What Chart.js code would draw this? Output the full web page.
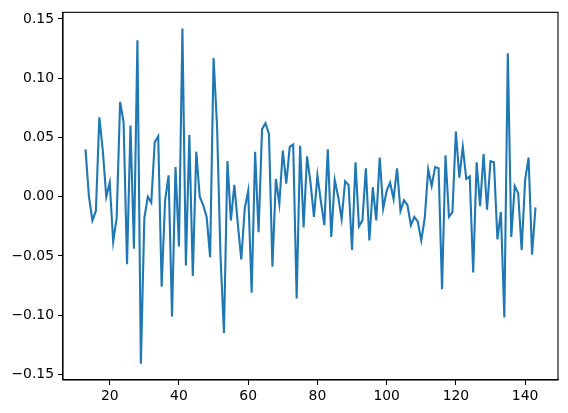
<!DOCTYPE html>
<html>
<head>
    <script src="https://cdn.jsdelivr.net/npm/chart.js"></script>
    <style>
        html, body { margin: 0; padding: 0; background: #fff; }
    </style>
</head>
<body>
    <canvas id="chart" width="568" height="413"></canvas>

    <script>
        // valori
        const xValues = [13, 14, 15, 16, 17, 18, 19, 20, 21, 22, 23, 24, 25, 26, 27, 28, 29, 30, 31, 32,
            33, 34, 35, 36, 37, 38, 39, 40, 41, 42, 43, 44, 45, 46, 47, 48, 49, 50, 51, 52,
            53, 54, 55, 56, 57, 58, 59, 60, 61, 62, 63, 64, 65, 66, 67, 68, 69, 70, 71, 72,
            73, 74, 75, 76, 77, 78, 79, 80, 81, 82, 83, 84, 85, 86, 87, 88, 89, 90, 91, 92,
            93, 94, 95, 96, 97, 98, 99, 100, 101, 102, 103, 104, 105, 106, 107, 108, 109, 110, 111, 112,
            113, 114, 115, 116, 117, 118, 119, 120, 121, 122, 123, 124, 125, 126, 127, 128, 129, 130, 131, 132,
            133, 134, 135, 136, 137, 138, 139, 140, 141, 142, 143];
        const yValues = [0.040, 0.000, -0.020, -0.012, 0.067, 0.039, 0.000, 0.012, -0.038, -0.018,
            0.080, 0.063, -0.057, 0.060, -0.044, 0.132, -0.141, -0.018, 0.000, -0.005,
            0.046, 0.051, -0.076, -0.003, 0.018, -0.101, 0.025, -0.042, 0.142, -0.058,
            0.052, -0.067, 0.038, 0.000, -0.007, -0.017, -0.051, 0.117, 0.060, -0.050,
            -0.115, 0.030, -0.020, 0.010, -0.023, -0.053, -0.010, 0.005, -0.081, 0.038,
            -0.030, 0.057, 0.062, 0.053, -0.059, 0.015, -0.006, 0.039, 0.011, 0.042,
            0.044, -0.086, 0.043, -0.026, 0.034, 0.012, -0.017, 0.018, -0.004, -0.024,
            0.040, -0.034, 0.014, 0.000, -0.019, 0.013, 0.010, -0.045, 0.029, -0.025,
            -0.020, 0.024, -0.037, 0.008, -0.020, 0.033, -0.010, 0.005, 0.012, -0.002,
            0.024, -0.012, -0.003, -0.007, -0.024, -0.017, -0.021, -0.037, -0.018, 0.023,
            0.009, 0.025, 0.024, -0.078, 0.035, -0.017, -0.013, 0.055, 0.016, 0.042,
            0.015, 0.017, -0.064, 0.029, -0.008, 0.036, -0.011, 0.030, 0.029, -0.036,
            -0.013, -0.102, 0.121, -0.034, 0.009, 0.003, -0.045, 0.014, 0.033, -0.049,
            -0.009];
        const xTicks = [20, 40, 60, 80, 100, 120, 140];
        const yTicks = [-0.15, -0.10, -0.05, 0.00, 0.05, 0.10, 0.15];

        const font = { family: 'DejaVu Sans', size: 13.9 };

        // bordo superiore e destro come in matplotlib
        const boxPlugin = {
            id: 'box',
            afterDraw(chart) {
                const a = chart.chartArea;
                const ctx = chart.ctx;
                ctx.save();
                ctx.strokeStyle = '#000';
                ctx.lineWidth = 1.1;
                ctx.strokeRect(a.left, a.top, a.right - a.left, a.bottom - a.top);
                ctx.restore();
            }
        };

        const ctx = document.getElementById('chart').getContext('2d');
        new Chart(ctx, {
            type: 'line',
            data: {
                datasets: [{
                    data: xValues.map((x, i) => ({ x: x, y: yValues[i] })),
                    borderColor: '#1f77b4',
                    borderWidth: 2.1,
                    pointRadius: 0,
                    tension: 0,
                    fill: false
                }]
            },
            options: {
                responsive: false,
                animation: false,
                layout: { padding: { top: 8, right: 10, left: 0, bottom: 0 } },
                plugins: { legend: { display: false }, tooltip: { enabled: false } },
                scales: {
                    x: {
                        type: 'linear',
                        min: 6.5,
                        max: 149.5,
                        afterBuildTicks: s => { s.ticks = xTicks.map(v => ({ value: v })); },
                        afterFit: s => { s.height = 33; },
                        grid: { display: true, drawOnChartArea: false, tickLength: 5, color: '#000', tickWidth: 1.1 },
                        border: { display: true, color: '#000', width: 1.1 },
                        ticks: { font: font, color: '#000', padding: 3, maxRotation: 0 }
                    },
                    y: {
                        type: 'linear',
                        min: -0.1547,
                        max: 0.1556,
                        afterBuildTicks: s => { s.ticks = yTicks.map(v => ({ value: v })); },
                        afterFit: s => { s.width = 63; },
                        grid: { display: true, drawOnChartArea: false, tickLength: 5, color: '#000', tickWidth: 1.1 },
                        border: { display: true, color: '#000', width: 1.1 },
                        ticks: {
                            font: font,
                            color: '#000',
                            padding: 4,
                            callback: v => v.toFixed(2).replace('-', '\u2212')
                        }
                    }
                }
            },
            plugins: [boxPlugin]
        });
    </script>
</body>
</html>
